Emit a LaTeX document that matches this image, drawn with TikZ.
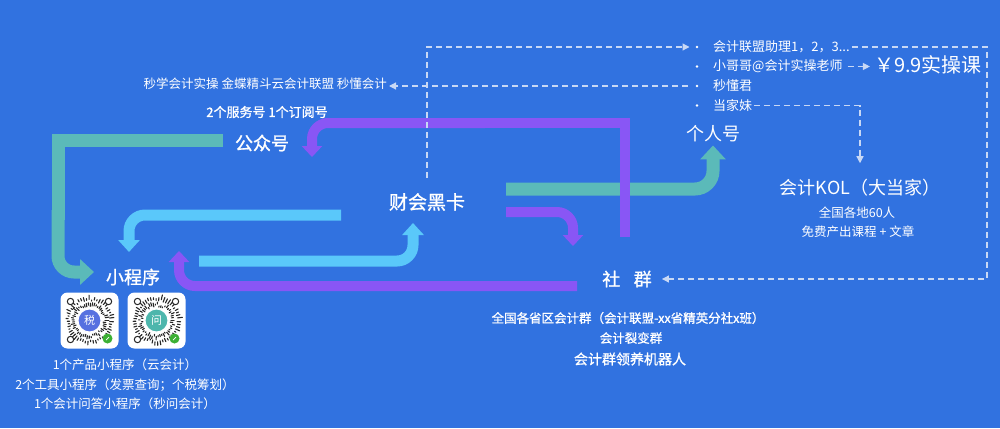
\documentclass[tikz,border=0pt]{standalone}
\usepackage{fontspec}
\setmainfont{Noto Sans CJK SC}
\newfontfamily\medfont[FakeBold=1.1]{Noto Sans CJK SC}
\usetikzlibrary{arrows.meta, calc}
\definecolor{bgblue}{RGB}{49,114,224}
\definecolor{flowteal}{RGB}{91,186,185}
\definecolor{flowsky}{RGB}{90,200,250}
\definecolor{flowpurple}{RGB}{137,86,245}
\definecolor{dashgray}{RGB}{200,216,245}
\definecolor{taxblue}{RGB}{86,112,224}
\definecolor{askteal}{RGB}{77,182,172}
\definecolor{wxgreen}{RGB}{60,176,52}
\newcommand{\fsz}[1]{\fontsize{#1pt}{#1pt}\selectfont}

\begin{document}
\begin{tikzpicture}[x=1pt, y=-1pt, every node/.style={text=white, inner sep=2pt},
    title/.style={font=\fsz{18}}, note/.style={font=\fsz{12.5}}, item/.style={font=\fsz{13}, anchor=west},
    dot/.style={circle, fill=white, inner sep=0pt, minimum size=2.6pt},
    dashline/.style={draw=dashgray, line width=1.2pt, dash pattern=on 6pt off 4pt, -{Triangle[length=7pt, width=7pt]}},
    tealflow/.style={draw=flowteal, line width=13pt, -{Triangle[length=14pt, width=25pt]}},
    skyflow/.style={draw=flowsky, line width=11pt, -{Triangle[length=12pt, width=21pt]}},
    purpleflow/.style={draw=flowpurple, line width=10pt, -{Triangle[length=11pt, width=20pt]}},
    qrcard/.style={fill=white, rounded corners=7pt, minimum width=58pt, minimum height=56pt, inner sep=0pt},
    qrline/.style={draw=black!85, line width=1.1pt, line cap=round}]
    \fill[bgblue] (0,0) rectangle (1000,428);

    \node[font=\medfont\fsz{18}] (gzh) at (262,143) {公众号};
    \node[font=\medfont\fsz{13}] (gzhsub) at (267,112) {2个服务号 1个订阅号};
    \node[note, anchor=east] (gzhname) at (389,84) {秒学会计实操 金蝶精斗云会计联盟 秒懂会计};
    \node[font=\medfont\fsz{19}] (chk) at (427,202) {财会黑卡};
    \node[font=\medfont\fsz{18}] (xcx) at (133,277) {小程序};
    \node[title] (grh) at (713,134) {个人号};
    \node[title] (kol) at (860,188) {会计KOL（大当家）};
    \node[note] (kolsub1) at (857,213) {全国各地60人};
    \node[note] (kolsub2) at (858,232) {免费产出课程 + 文章};
    \node[font=\medfont\fsz{18}] (sq) at (627,279) {社\hspace{0.75em}群};
    \node[font=\fsz{20}] (course) at (928,65) {￥9.9实操课};

    \node[dot] (b1) at (697,47) {};
    \node[dot] (b2) at (697,66.5) {};
    \node[dot] (b3) at (697,86) {};
    \node[dot] (b4) at (697,105.5) {};
    \node[item] (i1) at (711,47) {会计联盟助理1，2，3...};
    \node[item] (i2) at (711,66.5) {小哥哥@会计实操老师};
    \node[item] (i3) at (711,86) {秒懂君};
    \node[item] (i4) at (711,105.5) {当家妹};

    \node[font=\medfont\fsz{12.5}] (sqsub1) at (628,318) {全国各省区会计群（会计联盟-xx省精英分社x班）};
    \node[font=\medfont\fsz{12.5}] (sqsub2) at (631,338) {会计裂变群};
    \node[font=\medfont\fsz{14}] (sqsub3) at (630,359) {会计群领养机器人};

    \node[note] (xcxsub1) at (125,365) {1个产品小程序（云会计）};
    \node[note] (xcxsub2) at (125,385) {2个工具小程序（发票查询；个税筹划）};
    \node[note] (xcxsub3) at (125,404) {1个会计问答小程序（秒问会计）};

    \node[qrcard] (q1) at (89.5,320.5) {};
    \node[qrcard] (q2) at (156.5,320.5) {};
    \pgfmathsetseed{11}
    \foreach \q/\c/\t in {q1/taxblue/税, q2/askteal/问}{
        \begin{scope}[shift={(\q.center)}]
            \foreach \a in {0,7,...,353}{
                \pgfmathsetmacro\ra{13.5+3*rnd}
                \pgfmathsetmacro\rb{\ra+1+3*rnd}
                \pgfmathsetmacro\rc{19.5+2*rnd}
                \pgfmathsetmacro\rd{\rc+1+4*rnd}
                \draw[qrline] (\a:\ra) -- (\a:\rb);
                \draw[qrline] (\a+3:\rc) -- (\a+3:\rd);
            }
            \foreach \e in {(-19,-19), (19,-19), (-19,19)}
                \draw[black!85, line width=1pt, fill=white] \e circle (3.2pt);
            \fill[white] (0,0) circle (13pt);
            \node[circle, fill=\c, draw=white, line width=1pt, minimum size=23pt, inner sep=0pt, font=\fsz{11}] at (0,0) {\t};
            \fill[wxgreen] (18,18) circle (5pt);
            \draw[white, line width=0.7pt] (16.5,19.5) -- (19.5,16.5);
        \end{scope}
    }

    \coordinate (ta) at (223,140);
    \coordinate (tc) at (58,140);
    \coordinate (te) at (94,272);
    \coordinate (sa) at (341,215);
    \coordinate (se) at (129,252);
    \coordinate (sb) at (199,261);
    \coordinate (sf) at (413,223);
    \coordinate (pc) at (577,286);
    \coordinate (pg) at (179,251);
    \coordinate (tb) at (506,189);
    \coordinate (pb) at (506,212);
    \coordinate (pf) at (573,246);
    \coordinate (pa) at (625,237);
    \coordinate (pd) at (625,123);
    \coordinate (pe) at (312,157);

    \draw[draw=flowteal, line width=13pt] (ta) -- (tc) -- ++(0,80);
    \draw[tealflow, rounded corners=16pt] ($(tc)+(0,70)$) |- (te);
    \draw[skyflow, rounded corners=16pt] (sa) -| (se);
    \draw[skyflow, rounded corners=16pt] (sb) -| (sf);
    \draw[purpleflow, rounded corners=16pt] (pc) -| (pg);
    \draw[tealflow, rounded corners=18pt, shorten >=1pt] (tb) -| (grh.south);
    \draw[purpleflow, rounded corners=16pt] (pb) -| (pf);
    \draw[draw=flowpurple, line width=10pt] (pa) -- (pd) -- ++(-150,0);
    \draw[purpleflow, rounded corners=16pt] ($(pd)+(-140,0)$) -| (pe);

    \coordinate (d1) at (427,178);
    \coordinate (rc) at (987,47);
    \draw[dashline, shorten >=6pt] (d1) |- (b1);
    \draw[dashline, shorten <=9pt] (b3.center) -- (b3 -| gzhname.east);
    \draw[dashline, shorten <=3pt, shorten >=2pt] (i2.east) -- (i2.east -| course.west);
    \draw[dashline, shorten >=14pt] (i4.east) -| (kol.north);
    \draw[dashline, shorten >=8pt] (i1.east) -- (rc) |- (sq.east);
\end{tikzpicture}
\end{document}
